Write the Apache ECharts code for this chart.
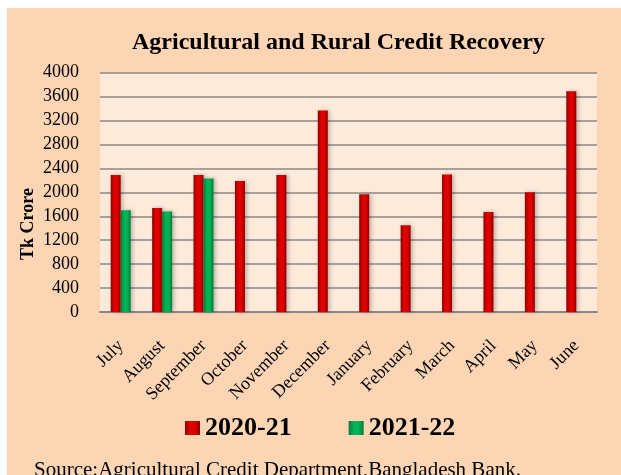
<!DOCTYPE html>
<html>
<head>
<meta charset="utf-8">
<script src="https://cdn.jsdelivr.net/npm/echarts@6/dist/echarts.min.js"></script>
<style>html,body{margin:0;padding:0;background:#fff;}#c{width:621px;height:475px;}</style>
</head>
<body>
<div id="c"></div>
<script>
var categories = ['July','August','September','October','November','December','January','February','March','April','May','June'];
var series2021 = [2290, 1740, 2290, 2190, 2290, 3370, 1970, 1450, 2300, 1670, 2000, 3690];
var series2122 = [1700, 1680, 2230, null, null, null, null, null, null, null, null, null];
var yTicks = {min: 0, max: 4000, interval: 400};
var seriesNames = ['2020-21', '2021-22'];

var serif = '"Liberation Serif", "Times New Roman", serif';
function grad(edge, mid) {
  return new echarts.graphic.LinearGradient(0, 0, 1, 0, [
    {offset: 0, color: edge}, {offset: 0.35, color: mid}, {offset: 0.65, color: mid}, {offset: 1, color: edge}
  ]);
}
var chart = echarts.init(document.getElementById('c'));
chart.setOption({
  backgroundColor: '#FCD5B5',
  animation: false,
  title: {
    text: 'Agricultural and Rural Credit Recovery',
    left: 132, top: 31, padding: 0,
    textStyle: {fontFamily: serif, fontWeight: 'bold', fontSize: 24, color: '#000'}
  },
  grid: {left: 100, right: 24, top: 72.7, bottom: 163, show: true, backgroundColor: '#FDEADA', borderWidth: 0},
  legend: {
    data: seriesNames,
    left: 185, top: 415, padding: 0,
    icon: 'rect',
    itemWidth: 15, itemHeight: 14, itemGap: 57,
    textStyle: {fontFamily: serif, fontWeight: 'bold', fontSize: 26, color: '#000'}
  },
  xAxis: {
    type: 'category',
    data: categories,
    axisLine: {lineStyle: {color: '#888', width: 2}},
    axisTick: {show: false},
    axisLabel: {rotate: 45, margin: 31, interval: 0, fontFamily: serif, fontSize: 18, color: '#000'}
  },
  yAxis: {
    type: 'value',
    min: yTicks.min, max: yTicks.max, interval: yTicks.interval,
    axisLine: {show: false},
    axisTick: {show: false},
    splitLine: {lineStyle: {color: '#888', width: 1.5}},
    axisLabel: {margin: 21, fontFamily: serif, fontSize: 18, color: '#000', formatter: function (v) { return String(v); }}
  },
  series: [
    {
      name: seriesNames[0], type: 'bar', data: series2021, barWidth: 10, barGap: '0%',
      itemStyle: {color: grad('#8E0000', '#E00000'), shadowColor: 'rgba(0,0,0,0.25)', shadowBlur: 4, shadowOffsetX: 2}
    },
    {
      name: seriesNames[1], type: 'bar', data: series2122, barWidth: 10, barGap: '0%',
      itemStyle: {color: grad('#007A3A', '#00B455'), shadowColor: 'rgba(0,0,0,0.25)', shadowBlur: 4, shadowOffsetX: 2}
    }
  ],
  graphic: [
    {type: 'rect', shape: {x: 0, y: 0, width: 621, height: 8}, style: {fill: '#fff'}, silent: true},
    {type: 'rect', shape: {x: 0, y: 0, width: 7, height: 475}, style: {fill: '#fff'}, silent: true},
    {type: 'text', x: 28.5, y: 224, rotation: Math.PI / 2,
     style: {text: 'Tk Crore', textAlign: 'center', textVerticalAlign: 'middle', font: 'bold 18px ' + serif, fill: '#000'}},
    {type: 'text', x: 34, y: 460,
     style: {text: 'Source:Agricultural Credit Department,Bangladesh Bank.', textAlign: 'left', textVerticalAlign: 'top', font: '21px ' + serif, fill: '#000'}}
  ]
});
</script>
</body>
</html>
